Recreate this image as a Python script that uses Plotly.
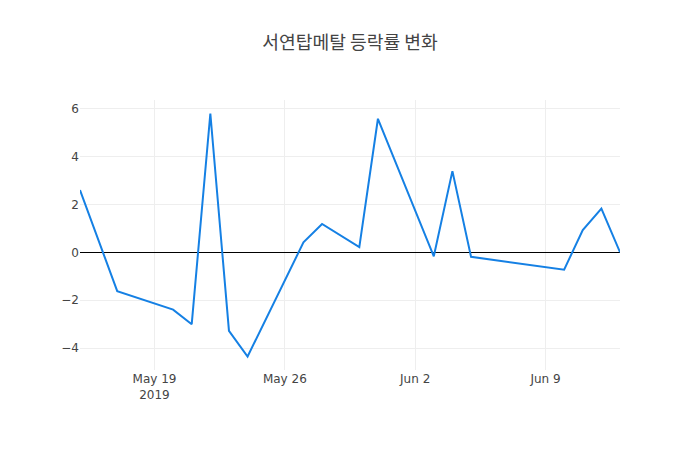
import plotly.graph_objects as go

# daily change rate (%) of 서연탑메탈
dates = [
    "2019-05-15", "2019-05-17", "2019-05-20", "2019-05-21", "2019-05-22",
    "2019-05-23", "2019-05-24", "2019-05-27", "2019-05-28", "2019-05-30",
    "2019-05-31", "2019-06-03", "2019-06-04", "2019-06-05", "2019-06-10",
    "2019-06-11", "2019-06-12", "2019-06-13",
]
rates = [
    2.61, -1.62, -2.39, -3.0, 5.81,
    -3.28, -4.35, 0.42, 1.19, 0.22,
    5.59, -0.16, 3.40, -0.18, -0.72,
    0.94, 1.83, 0.01,
]

title_text = "서연탑메탈 등락률 변화"

fig = go.Figure()
fig.add_trace(
    go.Scatter(
        x=dates,
        y=rates,
        mode="lines",
        line=dict(color="#1580e4", width=2),
    )
)

fig.update_layout(
    template="none",
    width=700,
    height=450,
    title=dict(text=title_text, x=0.5, xanchor="center", y=0.92,
               font=dict(size=18.2, color="#444",
                         family="Noto Sans CJK KR, DejaVu Sans")),
    font=dict(color="#444", family="DejaVu Sans, Verdana", size=12),
    margin=dict(l=80, r=80, t=100, b=80),
    plot_bgcolor="white",
    paper_bgcolor="white",
    showlegend=False,
)
fig.update_xaxes(showgrid=True, gridcolor="#eee", zeroline=False,
                 showline=False, ticks="", dtick=7 * 24 * 3600 * 1000,
                 tick0="2019-05-19")
fig.update_yaxes(showgrid=True, gridcolor="#eee", zeroline=True,
                 zerolinecolor="#000", zerolinewidth=1, showline=False,
                 ticks="", dtick=2)

# drop the browser's default page margin so the figure sits at the corner
fig.write_html("out.html",
               config={"displayModeBar": False},
               post_script="document.body.style.margin='0';"
                           "document.body.style.overflow='hidden';")
